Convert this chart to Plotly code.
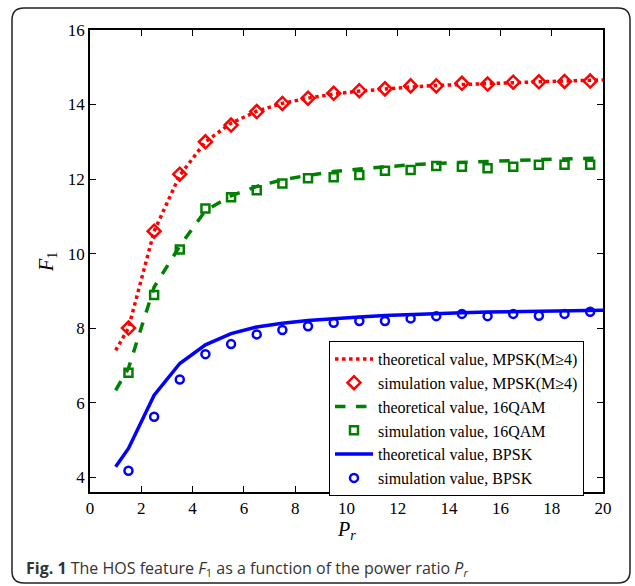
import plotly.graph_objects as go

# ---- data ----
x_theory = [1, 1.5, 2.5, 3.5, 4.5, 5.5, 6.5, 7.5, 8.5, 9.5, 10.5, 11.5, 12.5,
            13.5, 14.5, 15.5, 16.5, 17.5, 18.5, 19.5, 20]
mpsk_theory = [7.40, 8.00, 10.60, 12.10, 13.00, 13.50, 13.82, 14.03, 14.17, 14.28, 14.36,
               14.42, 14.47, 14.51, 14.54, 14.57, 14.59, 14.61, 14.63, 14.65, 14.66]
qam_theory = [6.33, 6.92, 9.10, 10.20, 11.15, 11.55, 11.80, 11.98, 12.10, 12.20, 12.27,
              12.33, 12.38, 12.42, 12.45, 12.48, 12.50, 12.52, 12.54, 12.55, 12.56]
bpsk_theory = [4.28, 4.77, 6.20, 7.05, 7.55, 7.85, 8.03, 8.13, 8.20, 8.26, 8.30,
               8.34, 8.37, 8.39, 8.41, 8.43, 8.44, 8.45, 8.46, 8.47, 8.48]

x_sim = [1.5, 2.5, 3.5, 4.5, 5.5, 6.5, 7.5, 8.5, 9.5, 10.5, 11.5, 12.5,
         13.5, 14.5, 15.5, 16.5, 17.5, 18.5, 19.5]
mpsk_sim = [8.00, 10.60, 12.13, 13.00, 13.45, 13.81, 14.03, 14.17, 14.30, 14.37, 14.42,
            14.50, 14.50, 14.57, 14.55, 14.60, 14.61, 14.62, 14.63]
qam_sim = [6.80, 8.89, 10.11, 11.21, 11.51, 11.70, 11.88, 12.02, 12.05, 12.11, 12.22,
           12.24, 12.35, 12.33, 12.29, 12.33, 12.38, 12.38, 12.38]
bpsk_sim = [4.17, 5.62, 6.62, 7.30, 7.57, 7.83, 7.95, 8.05, 8.14, 8.19, 8.19,
            8.26, 8.32, 8.38, 8.32, 8.38, 8.33, 8.38, 8.44]

x_ticks = [0, 2, 4, 6, 8, 10, 12, 14, 16, 18, 20]
y_ticks = [4, 6, 8, 10, 12, 14, 16]

RED, GREEN, BLUE = "#ff0000", "#008000", "#0000ff"
SERIF = "Liberation Serif"

fig = go.Figure()
fig.add_trace(go.Scatter(x=x_theory, y=mpsk_theory, mode="lines",
                         line=dict(color=RED, width=3.5, dash="dot"),
                         name="theoretical value, MPSK(M\u22654)"))
fig.add_trace(go.Scatter(x=x_sim, y=mpsk_sim, mode="markers",
                         marker=dict(symbol="diamond-open", size=10, color=RED,
                                     line=dict(width=2.5, color=RED)),
                         name="simulation value, MPSK(M\u22654)"))
fig.add_trace(go.Scatter(x=x_theory, y=qam_theory, mode="lines",
                         line=dict(color=GREEN, width=3.5, dash="dash"),
                         name="theoretical value, 16QAM"))
fig.add_trace(go.Scatter(x=x_sim, y=qam_sim, mode="markers",
                         marker=dict(symbol="square-open", size=8, color=GREEN,
                                     line=dict(width=2.5, color=GREEN)),
                         name="simulation value, 16QAM"))
fig.add_trace(go.Scatter(x=x_theory, y=bpsk_theory, mode="lines",
                         line=dict(color=BLUE, width=3.5),
                         name="theoretical value, BPSK"))
fig.add_trace(go.Scatter(x=x_sim, y=bpsk_sim, mode="markers",
                         marker=dict(symbol="circle-open", size=8, color=BLUE,
                                     line=dict(width=2.5, color=BLUE)),
                         name="simulation value, BPSK"))

L, R, T, B = 90, 603, 30, 492
W, H = 635, 586
pw, ph = R - L, B - T

def px(xp):
    return (xp - L) / pw

def py(yp):
    return (B - yp) / ph

def axis(rng, vals):
    return dict(range=rng, tickmode="array", tickvals=vals, showticklabels=True,
                tickfont=dict(family=SERIF, size=17, color="black"),
                showgrid=False, zeroline=False, showline=True, linecolor="black",
                linewidth=1.5, mirror="ticks", ticks="inside", ticklen=6,
                tickcolor="black", tickwidth=1.2)

annotations = [
    dict(text="<i>F</i><sub>1</sub>", xref="paper", yref="paper",
         x=px(47), y=py(262), xanchor="center", yanchor="middle",
         textangle=-90, showarrow=False,
         font=dict(family=SERIF, size=20, color="black")),
    dict(text="<i>P</i><sub><i>r</i></sub>", xref="paper", yref="paper",
         x=px(346), y=py(530), xanchor="center", yanchor="middle",
         showarrow=False,
         font=dict(family=SERIF, size=20, color="black")),
    dict(text="<b>Fig. 1</b> The HOS feature <i>F</i><sub>1</sub> as a function of the power ratio <i>P</i><sub><i>r</i></sub>",
         xref="paper", yref="paper", x=px(24), y=py(568), xanchor="left",
         yanchor="middle", showarrow=False,
         font=dict(family="Open Sans", size=16, color="#333333")),
]

fig.update_layout(
    template="none",
    width=W, height=H,
    margin=dict(l=L, r=W - R, t=T, b=H - B),
    font=dict(family=SERIF, size=16, color="black"),
    paper_bgcolor="white", plot_bgcolor="white",
    xaxis=axis([0, 20], x_ticks),
    yaxis=axis([3.6, 16], y_ticks),
    legend=dict(x=px(329), y=py(341), xanchor="left", yanchor="top",
                bordercolor="black", borderwidth=1, bgcolor="white",
                font=dict(family=SERIF, size=16, color="black"),
                tracegroupgap=0, itemwidth=38),
    annotations=annotations,
)

# rounded frame around the whole figure
x0, x1, y0, y1, r = 12, 630, 8, 583, 12
path = (f"M {px(x0 + r)} {py(y0)} L {px(x1 - r)} {py(y0)} "
        f"Q {px(x1)} {py(y0)} {px(x1)} {py(y0 + r)} "
        f"L {px(x1)} {py(y1 - r)} Q {px(x1)} {py(y1)} {px(x1 - r)} {py(y1)} "
        f"L {px(x0 + r)} {py(y1)} Q {px(x0)} {py(y1)} {px(x0)} {py(y1 - r)} "
        f"L {px(x0)} {py(y0 + r)} Q {px(x0)} {py(y0)} {px(x0 + r)} {py(y0)} Z")
fig.add_shape(type="path", path=path, xref="paper", yref="paper",
              line=dict(color="#222222", width=1.5), layer="below")

fig.write_html("out.html")
